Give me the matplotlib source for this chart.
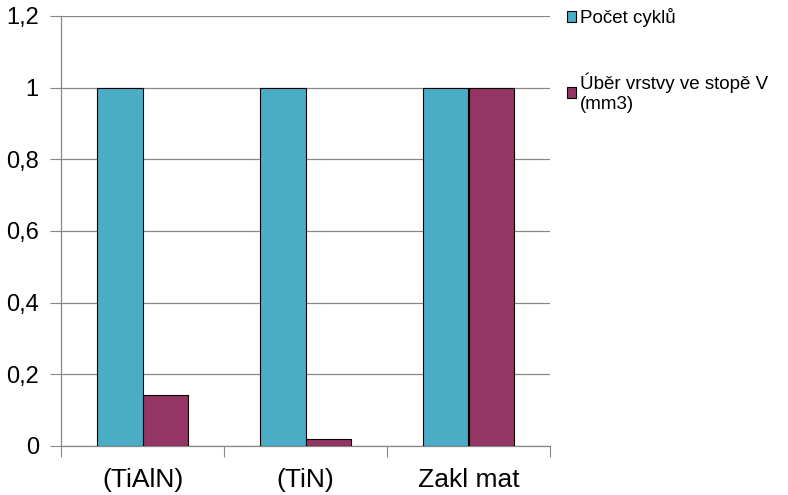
import numpy as np
import matplotlib.pyplot as plt
from matplotlib.ticker import FuncFormatter

plt.rcParams['font.family'] = ['Liberation Sans', 'DejaVu Sans']

# data
categories = ['(TiAlN)', '(TiN)', 'Zakl mat']
pocet_cyklu = [1.0, 1.0, 1.0]
uber_vrstvy = [0.142, 0.02, 1.0]
series_names = ['Počet cyklů', 'Úběr vrstvy ve stopě V\n(mm3)']
y_ticks = [0, 0.2, 0.4, 0.6, 0.8, 1.0, 1.2]

fig = plt.figure(figsize=(7.88, 4.95), dpi=100)
ax = fig.add_axes([61 / 788, 49 / 495, 489 / 788, 430 / 495])

x = np.arange(len(categories))
w = 0.28
ax.bar(x - w / 2, pocet_cyklu, w, color='#4BACC6', edgecolor='black', linewidth=0.8,
       label=series_names[0], zorder=3)
ax.bar(x + w / 2, uber_vrstvy, w, color='#953563', edgecolor='black', linewidth=0.8,
       label=series_names[1], zorder=3)

ax.set_xlim(-0.5, len(categories) - 0.5)
ax.set_ylim(0, 1.2)
ax.set_yticks(y_ticks)
ax.yaxis.set_major_formatter(FuncFormatter(lambda v, p: ('%g' % v).replace('.', ',')))
ax.grid(axis='y', color='#888888', linewidth=0.9, zorder=0)

# category boundaries as ticks, labels at centers
ax.set_xticks(np.arange(len(categories) + 1) - 0.5)
ax.set_xticklabels([])
ax.set_xticks(x, minor=True)
ax.set_xticklabels(categories, minor=True, fontsize=19)
ax.tick_params(axis='x', which='major', length=8, color='#888888', direction='out')
ax.tick_params(axis='x', which='minor', length=0, pad=16)
ax.tick_params(axis='y', length=8, color='#888888', labelsize=17, pad=8)

for s in ['top', 'right']:
    ax.spines[s].set_visible(False)
for s in ['left', 'bottom']:
    ax.spines[s].set_color('#888888')
    ax.spines[s].set_linewidth(0.9)

fig.legend(loc='upper left', bbox_to_anchor=(567 / 788, 1 - 8 / 495), frameon=False,
           fontsize=13.5, handlelength=0.5, handleheight=0.5, handletextpad=0.2,
           labelspacing=2.45, borderpad=0, borderaxespad=0)

fig.savefig('out.png', dpi=100)
